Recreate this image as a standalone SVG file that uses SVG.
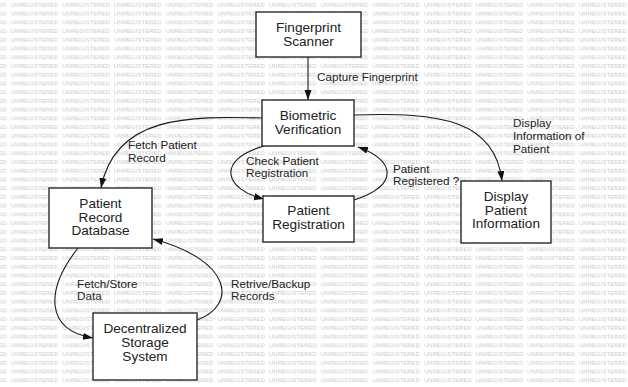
<svg xmlns="http://www.w3.org/2000/svg" width="628" height="387" viewBox="0 0 628 387">
  <style>
    .box { fill: #ffffff; stroke: #2a2a2a; stroke-width: 1.4; }
    .node { font-family: "Liberation Sans", Arial, sans-serif; font-size: 13.6px; fill: #222; text-anchor: middle; }
    .lbl { font-family: "Liberation Sans", Arial, sans-serif; font-size: 11.7px; fill: #222; }
    .edge { fill: none; stroke: #1a1a1a; stroke-width: 1.1; marker-end: url(#arrow); }
    .wm { font-family: "Liberation Sans", Arial, sans-serif; font-size: 6px; fill: #c8c8c8; }
  </style>
  <defs>
    <marker id="arrow" markerUnits="userSpaceOnUse" markerWidth="11" markerHeight="8" refX="10" refY="3.5" orient="auto">
      <path d="M0,0 L10,3.5 L0,7 Z" fill="#111"/>
    </marker>
    <pattern id="wmark" patternUnits="userSpaceOnUse" x="10.7" y="0" width="51.67" height="8.73">
      <text class="wm" x="0" y="7.2">UNREGISTERED</text>
    </pattern>
  </defs>
  <rect x="0" y="0" width="628" height="387" fill="#ffffff"/>
  <rect x="0" y="0" width="628" height="387" fill="url(#wmark)"/>

  <g id="connectors">
    <path class="edge" d="M308,57 L308,100"/>
    <path class="edge" d="M262,118 C190,116 115,115 101,188"/>
    <path class="edge" d="M264,146 C215,160 225,190 264,199"/>
    <path class="edge" d="M354,200 C400,185 395,160 358,147"/>
    <path class="edge" d="M354,115 C440,112 495,120 502,181"/>
    <path class="edge" d="M78,248 C45,290 45,330 93,338"/>
    <path class="edge" d="M197,320 C238,305 232,260 153,239"/>
    <text class="lbl" x="317" y="81">Capture Fingerprint</text>
    <text class="lbl" x="128" y="149">Fetch Patient</text>
    <text class="lbl" x="128" y="162">Record</text>
    <text class="lbl" x="246" y="165">Check Patient</text>
    <text class="lbl" x="246" y="177">Registration</text>
    <text class="lbl" x="393" y="173">Patient</text>
    <text class="lbl" x="393" y="185">Registered ?</text>
    <text class="lbl" x="513" y="127">Display</text>
    <text class="lbl" x="513" y="140">Information of</text>
    <text class="lbl" x="513" y="153">Patient</text>
    <text class="lbl" x="77" y="288">Fetch/Store</text>
    <text class="lbl" x="77" y="300">Data</text>
    <text class="lbl" x="231" y="288">Retrive/Backup</text>
    <text class="lbl" x="231" y="300">Records</text>
  </g>

  <g id="fingerprint-scanner">
    <rect class="box" x="256" y="12" width="105" height="45"/>
    <text class="node" x="308.5" y="32">Fingerprint</text>
    <text class="node" x="308.5" y="46">Scanner</text>
  </g>
  <g id="biometric-verification">
    <rect class="box" x="262" y="100" width="92" height="46"/>
    <text class="node" x="308" y="120">Biometric</text>
    <text class="node" x="308" y="134">Verification</text>
  </g>
  <g id="patient-record-database">
    <rect class="box" x="49" y="188" width="103" height="60"/>
    <text class="node" x="100.5" y="208">Patient</text>
    <text class="node" x="100.5" y="221.5">Record</text>
    <text class="node" x="100.5" y="235">Database</text>
  </g>
  <g id="patient-registration">
    <rect class="box" x="263" y="196" width="91" height="46"/>
    <text class="node" x="308.5" y="215">Patient</text>
    <text class="node" x="308.5" y="229">Registration</text>
  </g>
  <g id="display-patient-information">
    <rect class="box" x="461" y="181" width="90" height="62"/>
    <text class="node" x="506" y="201">Display</text>
    <text class="node" x="506" y="214.5">Patient</text>
    <text class="node" x="506" y="228">Information</text>
  </g>
  <g id="decentralized-storage-system">
    <rect class="box" x="93" y="313" width="104" height="67"/>
    <text class="node" x="145" y="333">Decentralized</text>
    <text class="node" x="145" y="347">Storage</text>
    <text class="node" x="145" y="361">System</text>
  </g>
</svg>
